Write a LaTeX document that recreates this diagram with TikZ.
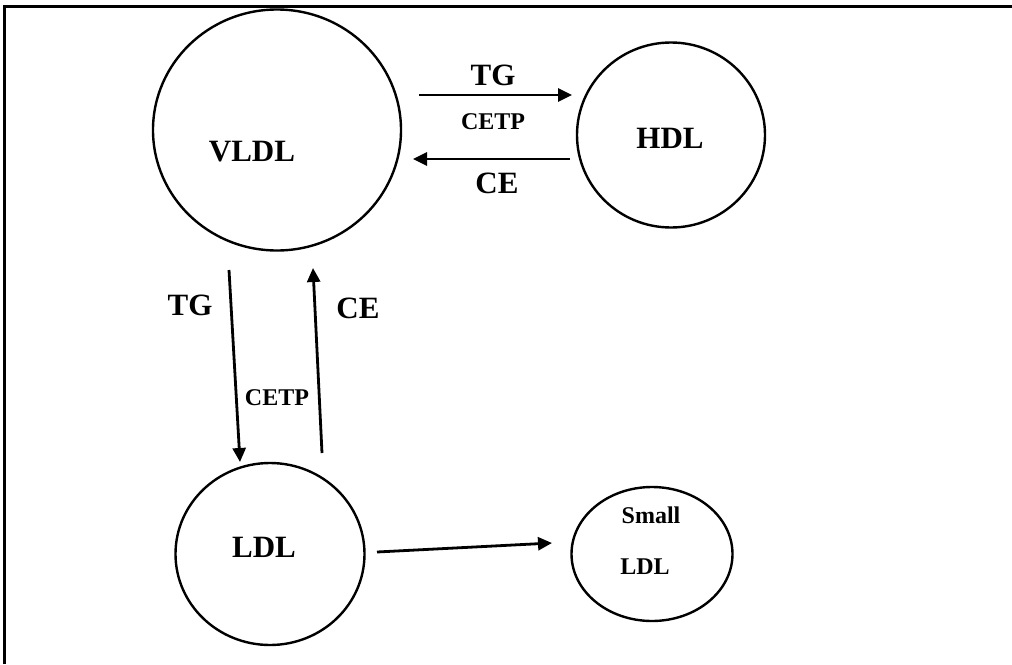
\documentclass[tikz,border=0pt]{standalone}
\usepackage{fontspec}
\setmainfont{Liberation Serif}
\usetikzlibrary{shapes.geometric,arrows.meta}
\tikzset{
  blob/.style={draw, ellipse, line width=2.4pt, inner sep=0pt},
  big/.style={font=\bfseries\fontsize{31}{31}\selectfont, inner sep=0pt},
  small/.style={font=\bfseries\fontsize{24}{24}\selectfont, inner sep=0pt},
  arr/.style={line width=2.8pt, -{Triangle[length=14pt,width=13pt]}},
  frame/.style={line width=3pt}
}
\begin{document}
\begin{tikzpicture}[x=1pt,y=-1pt]
\useasboundingbox (0,0) rectangle (1012,664);
% frame
\coordinate (f1) at (4,664);
\coordinate (f2) at (4,6);
\coordinate (f3) at (1012,6);
\draw[frame] (f1) -- (f2) -- (f3);
% circles
\node[blob, minimum width=248pt, minimum height=241pt] (vldl) at (277,130) {};
\node[blob, minimum width=188pt, minimum height=185pt] (hdl) at (671,135) {};
\node[blob, minimum width=189pt, minimum height=182pt] (ldl) at (270,554) {};
\node[blob, minimum width=161pt, minimum height=134pt] (sldl) at (652,554) {};
% circle texts
\node[big] (tvldl) at (252,152) {VLDL};
\node[big] (thdl) at (670,138) {HDL};
\node[big] (tldl) at (264,547) {LDL};
\node[small] (tsm) at (651,515) {Small};
\node[small] (tsl) at (645,567) {LDL};
% arrow ends
\coordinate (a1s) at (419,95);  \coordinate (a1e) at (572,95);
\coordinate (a2s) at (570,159); \coordinate (a2e) at (413,159);
\coordinate (a3s) at (229,270); \coordinate (a3e) at (240,462);
\coordinate (a4s) at (322,453); \coordinate (a4e) at (313,268);
\coordinate (a5s) at (377,552); \coordinate (a5e) at (552,543);
\draw[arr] (a1s) -- (a1e);
\draw[arr] (a2s) -- (a2e);
\draw[arr] (a3s) -- (a3e);
\draw[arr] (a4s) -- (a4e);
\draw[arr] (a5s) -- (a5e);
% labels
\node[big] (ltg1) at (493,75) {TG};
\node[small] (lcetp1) at (493,122) {CETP};
\node[big] (lce1) at (497,183) {CE};
\node[big] (ltg2) at (190,305) {TG};
\node[big] (lce2) at (358,308) {CE};
\node[small] (lcetp2) at (277,398) {CETP};
\end{tikzpicture}
\end{document}
